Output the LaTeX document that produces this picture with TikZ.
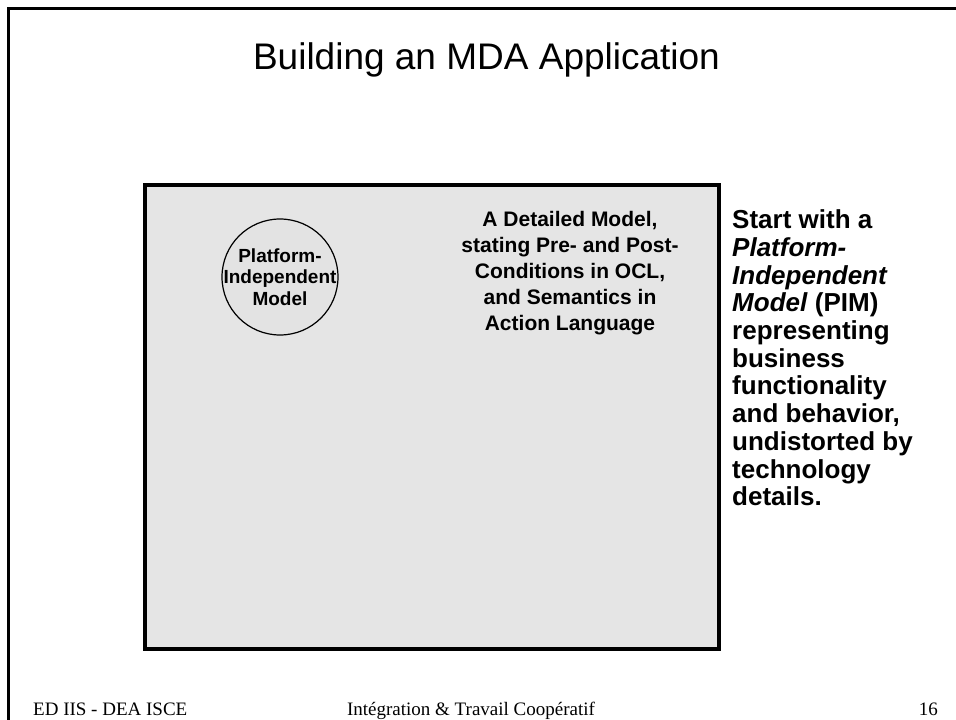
\documentclass[tikz,border=0pt]{standalone}
\usepackage{fontspec}
\setmainfont{Liberation Serif}
\newfontfamily\arial{Liberation Sans}
\begin{document}
\begin{tikzpicture}[x=1pt,y=-1pt,
  framestyle/.style={line width=3pt,black},
  boxstyle/.style={line width=4pt,draw=black,fill=gray!20},
  circstyle/.style={circle,draw=black,line width=1.2pt,fill=gray!22,minimum size=116pt,inner sep=0pt},
  boldtext/.style={inner sep=0pt,align=center,font=\arial\bfseries\fontsize{21}{26}\selectfont},
  foot/.style={inner sep=0pt,font=\fontsize{19}{22}\selectfont}]
\useasboundingbox (0,0) rectangle (956,720);
\fill[white] (0,0) rectangle (956,720);
% outer slide frame (only top and left visible)
\coordinate (fa) at (8.5,730);
\coordinate (fb) at (8.5,8.5);
\coordinate (fc) at (966,8.5);
\draw[framestyle] (fa) -- (fb) -- (fc);
% title
\node[inner sep=0pt,anchor=base,font=\arial\fontsize{37}{42}\selectfont] (title) at (486.5,69) {Building an MDA Application};
% main box
\draw[boxstyle] (144.5,185) rectangle (718.5,649);
% circle
\node[circstyle] (pim) at (280,277) {};
\node[boldtext,font=\arial\bfseries\fontsize{19}{21.5}\selectfont] (pimtxt) at (pim.center) {Platform-\\Independent\\Model};
% detailed model text
\node[boldtext] (detail) at (570,273) {A Detailed Model,\\stating Pre- and Post-\\Conditions in OCL,\\and Semantics in\\Action Language};
% right side text
\node[inner sep=0pt,anchor=west,align=left,font=\arial\bfseries\fontsize{26}{27.7}\selectfont] (side) at (732,358)
{Start with a\\\textit{Platform-}\\\textit{Independent}\\\textit{Model} (PIM)\\representing\\business\\functionality\\and behavior,\\undistorted by\\technology\\details.};
% footer
\node[foot,anchor=base west] (f1) at (33,715) {ED IIS - DEA ISCE};
\node[foot,anchor=base] (f2) at (471,715) {Intégration \& Travail Coopératif};
\node[foot,anchor=base east] (f3) at (938,715) {16};
\end{tikzpicture}
\end{document}
